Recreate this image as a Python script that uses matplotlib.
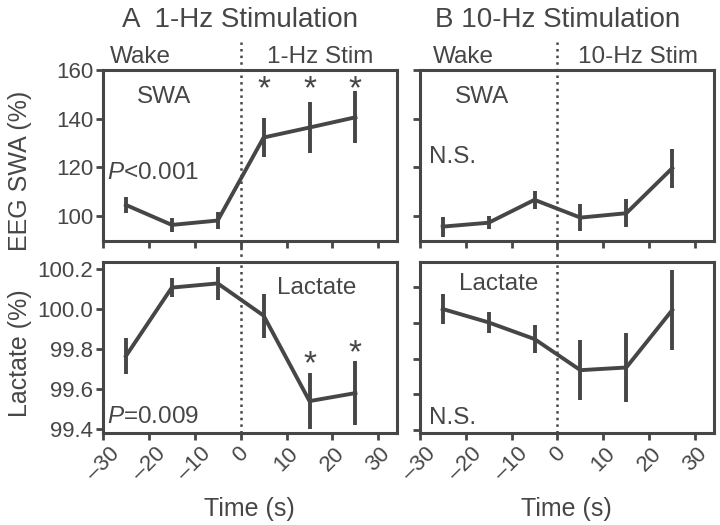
import matplotlib
matplotlib.use("Agg")
import matplotlib.pyplot as plt

plt.rcParams['font.family'] = ['Liberation Sans', 'DejaVu Sans']
plt.rcParams['mathtext.fontset'] = 'custom'
plt.rcParams['mathtext.rm'] = 'Liberation Sans'
plt.rcParams['mathtext.it'] = 'Liberation Sans:italic'

# time bins (s)
t = [-25, -15, -5, 5, 15, 25]

# 1-Hz stimulation
swa_1hz = [104.5, 96.3, 98.1, 132.2, 136.3, 140.5]
swa_1hz_err = [3.3, 3.0, 3.5, 8.2, 10.5, 10.7]
lac_1hz = [99.765, 100.107, 100.128, 99.967, 99.54, 99.58]
lac_1hz_err = [0.09, 0.047, 0.083, 0.11, 0.14, 0.158]

# 10-Hz stimulation
swa_10hz = [95.6, 97.2, 106.6, 99.3, 101.1, 119.6]
swa_10hz_err = [4.1, 2.7, 3.8, 5.5, 5.8, 8.0]
lac_10hz = [100.077, 100.002, 99.909, 99.735, 99.75, 100.071]
lac_10hz_err = [0.086, 0.06, 0.079, 0.168, 0.193, 0.224]

xticks = [-30, -20, -10, 0, 10, 20, 30]
swa_ticks = [100, 120, 140, 160]
lac_ticks = [99.4, 99.6, 99.8, 100.0, 100.2]

c = '#464646'
fs = 17.5   # text inside / above panels
tfs = 16    # tick labels
lfs = 18    # axis labels

fig = plt.figure(figsize=(7.2, 5.25), dpi=100)
axA1 = fig.add_axes([0.143, 0.541, 0.408, 0.326])
axA2 = fig.add_axes([0.143, 0.175, 0.408, 0.326])
axB1 = fig.add_axes([0.583, 0.541, 0.408, 0.326])
axB2 = fig.add_axes([0.583, 0.175, 0.408, 0.326])

for ax, y, e in [(axA1, swa_1hz, swa_1hz_err), (axA2, lac_1hz, lac_1hz_err),
                 (axB1, swa_10hz, swa_10hz_err), (axB2, lac_10hz, lac_10hz_err)]:
    ax.errorbar(t, y, yerr=e, color=c, lw=2.8, elinewidth=2.8, capsize=0)
    ax.set_xlim(-30, 34)
    ax.set_xticks(xticks)
    for s in ax.spines.values():
        s.set_linewidth(2.2)
        s.set_color(c)
    ax.tick_params(direction='out', length=5, width=2, color=c,
                   labelcolor=c, labelsize=tfs, pad=2)

for ax in (axA1, axB1):
    ax.set_ylim(89.7, 160)
    ax.set_yticks(swa_ticks)
    ax.set_xticklabels([])
    ax.axvline(0, ymin=-0.13, ymax=1.165, color=c, ls=':', lw=1.8, clip_on=False)
for ax in (axA2, axB2):
    ax.axvline(0, color=c, ls=':', lw=1.8)
    ax.set_xticklabels([str(v).replace('-', '\u2013') for v in xticks],
                       rotation=45, ha='center', va='top')
    ax.set_xlabel('Time (s)', fontsize=lfs, color=c, labelpad=9)

axA2.set_ylim(99.38, 100.235)
axA2.set_yticks(lac_ticks)
axA2.set_yticklabels(['99.4', '99.6', '99.8', '100.0', '100.2'])
axB2.set_ylim(99.383, 100.34)
axB2.set_yticks(lac_ticks)
axB1.set_yticklabels([])
axB2.set_yticklabels([])

axA1.set_ylabel('EEG SWA (%)', fontsize=lfs, color=c)
axA2.set_ylabel('Lactate (%)', fontsize=lfs, color=c)
axA1.yaxis.set_label_coords(-0.241, 0.41)
axA2.yaxis.set_label_coords(-0.241, 0.465)

# labels inside panels
axA1.text(-16.6, 148.9, 'SWA', fontsize=fs, color=c, ha='center', va='center')
axA1.text(-29.2, 117.7, r'$P$<0.001', fontsize=fs, color=c, ha='left', va='center')
axA2.text(16.6, 100.105, 'Lactate', fontsize=fs, color=c, ha='center', va='center')
axA2.text(-29.2, 99.46, r'$P$=0.009', fontsize=fs, color=c, ha='left', va='center')
axB1.text(-16.4, 148.9, 'SWA', fontsize=fs, color=c, ha='center', va='center')
axB1.text(-28, 124.2, 'N.S.', fontsize=fs, color=c, ha='left', va='center')
axB2.text(-12.9, 100.218, 'Lactate', fontsize=fs, color=c, ha='center', va='center')
axB2.text(-28, 99.47, 'N.S.', fontsize=fs, color=c, ha='left', va='center')

# significance stars
for x in t[3:]:
    axA1.text(x, 152, '*', fontsize=24, color=c, ha='center', va='center')
for x, y, e in zip(t[4:], lac_1hz[4:], lac_1hz_err[4:]):
    axA2.text(x, y + e + 0.04, '*', fontsize=24, color=c, ha='center', va='center')

# phase labels above top panels
axA1.text(-28.5, 1.01, 'Wake', transform=axA1.get_xaxis_transform(),
          fontsize=fs, color=c, ha='left', va='bottom')
axA1.text(5.8, 1.01, '1-Hz Stim', transform=axA1.get_xaxis_transform(),
          fontsize=fs, color=c, ha='left', va='bottom')
axB1.text(-27.2, 1.01, 'Wake', transform=axB1.get_xaxis_transform(),
          fontsize=fs, color=c, ha='left', va='bottom')
axB1.text(4.5, 1.01, '10-Hz Stim', transform=axB1.get_xaxis_transform(),
          fontsize=fs, color=c, ha='left', va='bottom')

fig.text(0.333, 0.962, 'A  1-Hz Stimulation', fontsize=20, color=c,
         ha='center', va='center')
fig.text(0.775, 0.962, 'B 10-Hz Stimulation', fontsize=20, color=c,
         ha='center', va='center')

fig.savefig('out.png', dpi=100)
